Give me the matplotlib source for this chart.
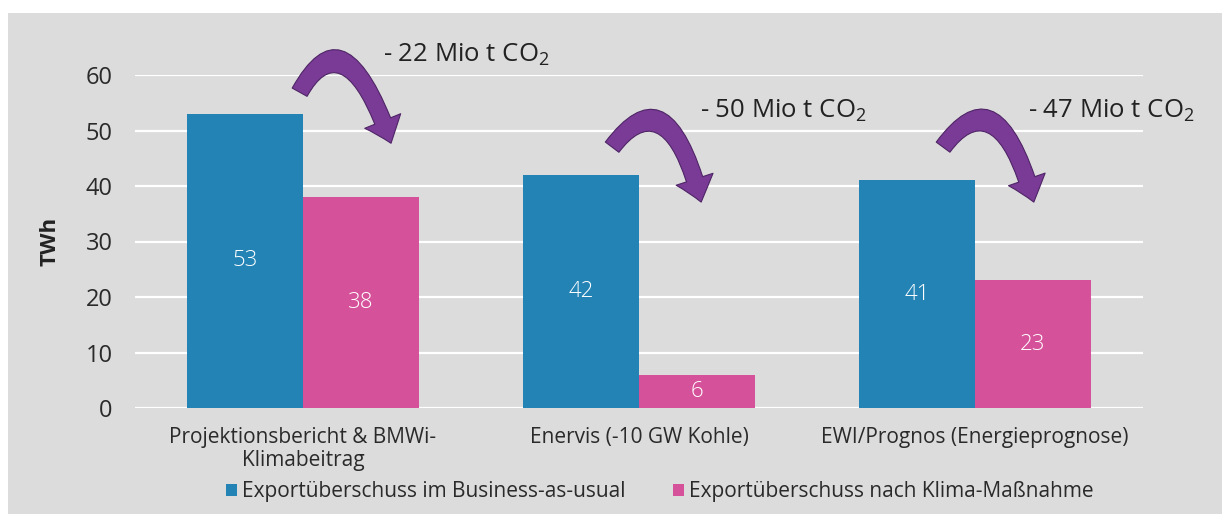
import matplotlib
matplotlib.use("Agg")
import matplotlib.pyplot as plt
from matplotlib.patches import FancyArrowPatch, Rectangle, Patch
from matplotlib.path import Path
import numpy as np

plt.rcParams['font.family'] = ['Open Sans', 'DejaVu Sans']
plt.rcParams['mathtext.default'] = 'regular'

categories = ["Projektionsbericht & BMWi-\nKlimabeitrag", "Enervis (-10 GW Kohle)", "EWI/Prognos (Energieprognose)"]
bau_values = [53, 42, 41]
klima_values = [38, 6, 23]
series_names = ["Exportüberschuss im Business-as-usual", "Exportüberschuss nach Klima-Maßnahme"]
co2_labels = ["- 22 Mio t CO$_2$", "- 50 Mio t CO$_2$", "- 47 Mio t CO$_2$"]
yticks = [0, 10, 20, 30, 40, 50, 60]

# annotation geometry (data coordinates)
arrow_tail = [(-0.01, 56.9), (0.92, 47.0), (1.905, 47.0)]
arrow_ctrl = [(0.125, 71.6), (1.086, 60.3), (2.068, 60.4)]
arrow_tip = [(0.262, 47.7), (1.185, 37.1), (2.175, 37.1)]
label_pos = [(0.238, 62.3), (1.182, 52.3), (2.158, 52.2)]

BLUE = "#2383b5"
PINK = "#d5519a"
GREY = "#dcdcdc"
PURPLE = "#7a3b96"

fig = plt.figure(figsize=(12.22, 5.14), dpi=100, facecolor="white")
fig.patches.append(Rectangle((8/1222, 0), 1 - 8/1222, 1 - 13/514, transform=fig.transFigure,
                             facecolor=GREY, edgecolor="none", zorder=-10))

ax = fig.add_axes([135/1222, 1 - 408/514, (1143 - 135)/1222, (408 - 75)/514])
ax.set_facecolor("none")

x = np.arange(len(categories))
w = 0.345
b1 = ax.bar(x - w/2, bau_values, w, color=BLUE, zorder=3, label=series_names[0])
b2 = ax.bar(x + w/2, klima_values, w, color=PINK, zorder=3, label=series_names[1])

for bars, vals in ((b1, bau_values), (b2, klima_values)):
    for r, v in zip(bars, vals):
        ax.text(r.get_x() + r.get_width()/2, v/2, str(v), ha="center", va="center",
                color="white", fontsize=16, fontweight="light", zorder=4)

ax.set_xlim(-0.5, 2.5)
ax.set_ylim(0, 60)
ax.set_yticks(yticks)
ax.set_yticklabels([str(t) for t in yticks], fontsize=17, color="#2a2a2a")
ax.set_xticks(x)
ax.set_xticklabels(categories, fontsize=15, color="#2a2a2a", linespacing=1.1)
ax.tick_params(axis="y", length=0, pad=16)
ax.tick_params(axis="x", length=0, pad=14)
for s in ax.spines.values():
    s.set_visible(False)
ax.grid(axis="y", color="white", linewidth=1.6, zorder=0)
ax.set_axisbelow(True)

for (t, c, p, (lx, ly), lab) in zip(arrow_tail, arrow_ctrl, arrow_tip, label_pos, co2_labels):
    path = Path([t, c, p], [Path.MOVETO, Path.CURVE3, Path.CURVE3])
    arr = FancyArrowPatch(path=path, arrowstyle="simple,head_length=0.95,head_width=1.55,tail_width=0.68",
                          mutation_scale=18, facecolor=PURPLE, edgecolor="#4e2466", linewidth=0.8,
                          transform=ax.transData, clip_on=False, zorder=5)
    ax.add_patch(arr)
    ax.text(lx, ly, lab, ha="left", va="baseline", fontsize=18.5, color="#222222", clip_on=False)

fig.text(50/1222, 1 - 241/514, "TWh", rotation=90, ha="center", va="center",
         fontsize=16, fontweight="bold", color="#222222")

handles = [Patch(facecolor=BLUE, edgecolor="none"), Patch(facecolor=PINK, edgecolor="none")]
fig.legend(handles, series_names, loc="center", bbox_to_anchor=(660/1222, 1 - 492/514), ncol=2,
           frameon=False, fontsize=15, handlelength=0.5, handleheight=0.5, handletextpad=0.25,
           columnspacing=2.3, labelcolor="#2a2a2a")

fig.savefig("out.png", dpi=100, facecolor="white")
